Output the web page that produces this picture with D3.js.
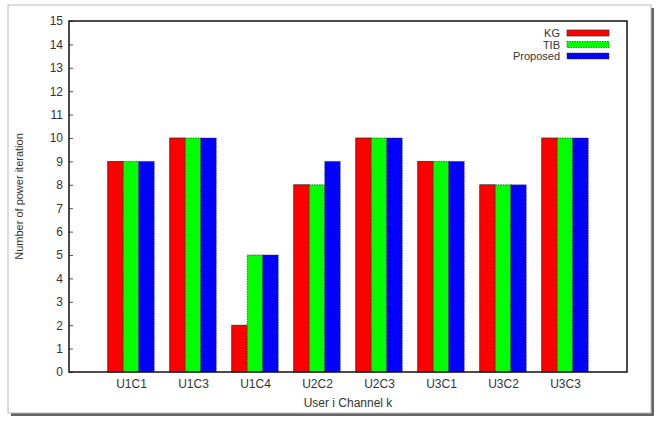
<!DOCTYPE html>
<html>
<head>
<meta charset="utf-8">
<script src="https://cdn.jsdelivr.net/npm/d3@7"></script>
<style>
  body { margin: 0; background: #fff; }
  text { font-family: "Liberation Sans", Arial, sans-serif; fill: #333; }
</style>
</head>
<body>
<div id="chart"></div>
<script>
// values
var categories = ["U1C1", "U1C3", "U1C4", "U2C2", "U2C3", "U3C1", "U3C2", "U3C3"];
var seriesNames = ["KG", "TIB", "Proposed"];
var seriesColors = ["#ff0000", "#00ff00", "#0000ff"];
var kgValues = [9, 10, 2, 8, 10, 9, 8, 10];
var tibValues = [9, 10, 5, 8, 10, 9, 8, 10];
var proposedValues = [9, 10, 5, 9, 10, 9, 8, 10];
var yTicks = [0, 1, 2, 3, 4, 5, 6, 7, 8, 9, 10, 11, 12, 13, 14, 15];

var allSeries = [kgValues, tibValues, proposedValues];

var width = 663, height = 421;
var plot = {left: 69, right: 627, top: 21, bottom: 372};

var svg = d3.select("#chart").append("svg")
    .attr("width", width)
    .attr("height", height);

// outer frame with a shadow on right/bottom
svg.append("rect")
    .attr("x", 11).attr("y", 8)
    .attr("width", 643).attr("height", 408)
    .attr("fill", "#666");
svg.append("rect")
    .attr("x", 8).attr("y", 5)
    .attr("width", 643).attr("height", 408)
    .attr("fill", "#fff")
    .attr("stroke", "#bbb")
    .attr("stroke-width", 1);

// x is positional like gnuplot: categories at 0..7, range -1..8
var x = d3.scaleLinear()
    .domain([-1, categories.length])
    .range([plot.left, plot.right]);

var y = d3.scaleLinear()
    .domain([0, 15])
    .range([plot.bottom, plot.top]);

var barW = 0.25;

// bars
allSeries.forEach(function(vals, s) {
    svg.append("g").selectAll("rect")
        .data(vals)
        .enter()
        .append("rect")
        .attr("x", function(d, i) { return x(i - 1.5 * barW + s * barW); })
        .attr("y", function(d) { return y(d); })
        .attr("width", x(barW) - x(0))
        .attr("height", function(d) { return y(0) - y(d); })
        .attr("fill", seriesColors[s])
        .attr("stroke", s == 0 ? "#222" : "#333")
        .attr("stroke-width", 0.7)
        .attr("stroke-dasharray", s == 0 ? null : "1.5,1");
});

// y axis ticks (inward) and labels
var yAxis = d3.axisLeft(y)
    .tickValues(yTicks)
    .tickSize(-4)
    .tickPadding(6)
    .tickFormat(d3.format("d"));

var gy = svg.append("g")
    .attr("transform", "translate(" + plot.left + ",0)")
    .call(yAxis);
gy.select(".domain").remove();
gy.selectAll("line").attr("stroke", "#555");
gy.selectAll("text")
    .style("font-size", "12px")
    .attr("fill", "#333");

// x tick labels
var xAxis = d3.axisBottom(x)
    .tickValues(d3.range(categories.length))
    .tickSize(0)
    .tickPadding(7)
    .tickFormat(function(d) { return categories[d]; });

var gx = svg.append("g")
    .attr("transform", "translate(0," + plot.bottom + ")")
    .call(xAxis);
gx.select(".domain").remove();
gx.selectAll("text")
    .style("font-size", "12px")
    .attr("fill", "#333");

// plot border
svg.append("rect")
    .attr("x", plot.left).attr("y", plot.top)
    .attr("width", plot.right - plot.left)
    .attr("height", plot.bottom - plot.top)
    .attr("fill", "none")
    .attr("stroke", "#111")
    .attr("stroke-width", 1.5);

// axis titles
svg.append("text")
    .attr("x", (plot.left + plot.right) / 2)
    .attr("y", 407)
    .attr("text-anchor", "middle")
    .style("font-size", "12px")
    .text("User i Channel k");

svg.append("text")
    .attr("transform", "translate(23," + ((plot.top + plot.bottom) / 2) + ") rotate(-90)")
    .attr("text-anchor", "middle")
    .style("font-size", "11px")
    .text("Number of power iteration");

// legend
var legend = svg.append("g").selectAll("g")
    .data(seriesNames)
    .enter()
    .append("g")
    .attr("transform", function(d, i) { return "translate(0," + (33 + i * 11.5) + ")"; });

legend.append("text")
    .attr("x", 560)
    .attr("y", 4)
    .attr("text-anchor", "end")
    .style("font-size", "11px")
    .text(function(d) { return d; });

legend.append("rect")
    .attr("x", 567)
    .attr("y", -3)
    .attr("width", 42)
    .attr("height", 6)
    .attr("fill", function(d, i) { return seriesColors[i]; })
    .attr("stroke", "#333")
    .attr("stroke-width", 0.7)
    .attr("stroke-dasharray", function(d, i) { return i == 0 ? null : "1.5,1"; });
</script>
</body>
</html>
